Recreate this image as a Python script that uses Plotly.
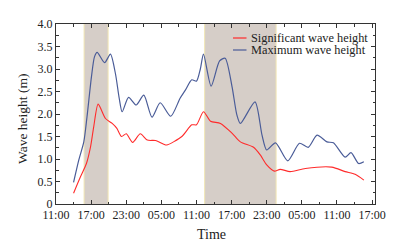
import plotly.graph_objects as go

# Time in hours after 11:00 on the first day
max_hours = [3.0, 3.9, 4.75, 5.3, 6.06, 6.57, 7.03, 8.3, 9.3, 10.15, 10.8, 11.3, 12.4, 13.7, 15.0,
             16.4, 17.8, 19.6, 21.2, 22.1, 23.2, 24.0, 24.66, 25.2, 26.5, 27.95, 28.9, 30.07, 30.9,
             31.5, 34.0, 35.2, 36.0, 37.5, 39.6, 41.6, 43.1, 44.6, 46.3, 47.4, 49.4, 50.4, 51.7, 52.6]
max_height = [0.48, 0.98, 1.38, 1.94, 2.83, 3.27, 3.37, 3.14, 3.33, 2.9, 2.35, 2.05, 2.37, 2.2, 2.42,
              1.93, 2.25, 1.95, 2.35, 2.53, 2.76, 2.73, 3.0, 3.33, 2.62, 3.18, 3.24, 2.61, 1.98,
              1.79, 2.27, 1.53, 1.2, 1.36, 0.96, 1.35, 1.26, 1.53, 1.38, 1.36, 1.04, 1.14, 0.9, 0.94]

sig_hours = [3.0, 4.2, 5.2, 5.9, 6.45, 7.2, 8.45, 9.6, 10.4, 11.2, 12.0, 13.1, 14.4, 15.6, 17.0,
             18.4, 18.9, 21.5, 23.2, 24.0, 25.2, 26.4, 28.1, 30.1, 31.5, 33.75, 34.9, 36.0, 37.3,
             38.3, 40.0, 42.6, 47.1, 49.4, 51.1, 52.6]
sig_height = [0.24, 0.61, 0.9, 1.27, 1.72, 2.22, 1.9, 1.79, 1.68, 1.5, 1.56, 1.37, 1.56, 1.42, 1.41,
              1.33, 1.31, 1.5, 1.76, 1.76, 2.05, 1.84, 1.79, 1.57, 1.38, 1.26, 1.09, 0.87, 0.73,
              0.77, 0.72, 0.79, 0.82, 0.72, 0.66, 0.53]

storm_periods = [(4.8, 8.9), (25.4, 37.6)]

x_tickvals = [0, 6, 12, 18, 24, 30, 36, 42, 48, 54]
x_ticktext = ["11:00", "17:00", "23:00", "05:00", "11:00", "17:00", "23:00", "05:00", "11:00", "17:00"]
y_tickvals = [0, 0.5, 1.0, 1.5, 2.0, 2.5, 3.0, 3.5, 4.0]
y_ticktext = ["0", "0.5", "1.0", "1.5", "2.0", "2.5", "3.0", "3.5", "4.0"]

series_names = ["Significant wave height", "Maximum wave height"]
RED = "#ff2b2b"
BLUE = "#4a5c98"
FONT = "Times New Roman, Liberation Serif, serif"

fig = go.Figure()
fig.add_trace(go.Scatter(x=sig_hours, y=sig_height, mode="lines", name=series_names[0],
                         line=dict(color=RED, width=1.1, shape="spline", smoothing=0.7),
                         showlegend=False))
fig.add_trace(go.Scatter(x=max_hours, y=max_height, mode="lines", name=series_names[1],
                         line=dict(color=BLUE, width=1.2, shape="spline", smoothing=0.7),
                         showlegend=False))

shapes = []
for a, b in storm_periods:
    shapes.append(dict(type="rect", xref="x", yref="paper", x0=a, x1=b, y0=0, y1=1,
                       fillcolor="#d6cec8", line=dict(width=0), layer="below"))
    for xv in (a, b):
        shapes.append(dict(type="line", xref="x", yref="paper", x0=xv, x1=xv, y0=0, y1=1,
                           line=dict(color="#f1e6b4", width=1), layer="below"))

# manual legend (plot area on screen: 56..375 px horizontally, 24..204 px vertically)
def px_x(p):
    return (p - 56) / 319.0

def px_y(p):
    return (204 - p) / 180.0

legend_rows = [(38, RED, series_names[0]), (50, BLUE, series_names[1])]
annotations = []
for py, col, txt in legend_rows:
    shapes.append(dict(type="line", xref="paper", yref="paper", x0=px_x(233), x1=px_x(246.5),
                       y0=px_y(py), y1=px_y(py), line=dict(color=col, width=1.2)))
    annotations.append(dict(xref="paper", yref="paper", x=px_x(249), y=px_y(py), text=txt,
                            showarrow=False, xanchor="left", yanchor="middle",
                            font=dict(family=FONT, size=12.3, color="#222")))

annotations.append(dict(xref="paper", yref="paper", x=px_x(211), y=px_y(234), text="Time",
                        showarrow=False, xanchor="center", yanchor="middle",
                        font=dict(family=FONT, size=14, color="#222")))
annotations.append(dict(xref="paper", yref="paper", x=px_x(22), y=px_y(119), text="Wave height (m)",
                        showarrow=False, xanchor="center", yanchor="middle", textangle=-90,
                        font=dict(family=FONT, size=13.5, color="#222")))

# page body has an 8 px margin, so the figure is offset by (8, 8) on screen
fig.update_layout(
    width=405, height=251,
    margin=dict(l=48, r=38, t=16, b=55),
    paper_bgcolor="white", plot_bgcolor="white",
    shapes=shapes, annotations=annotations,
    font=dict(family=FONT, size=12, color="#222"),
)
fig.update_xaxes(range=[0, 54.5], tickvals=x_tickvals, ticktext=x_ticktext, automargin=False,
                 ticks="inside", ticklen=4, tickcolor="#333", showline=True, linecolor="#333",
                 linewidth=1, mirror="ticks", showgrid=False, zeroline=False,
                 minor=dict(dtick=3, tick0=0, ticks="inside", ticklen=2.5, tickcolor="#333"),
                 tickfont=dict(family=FONT, size=12, color="#222"))
fig.update_yaxes(range=[0, 4], tickvals=y_tickvals, ticktext=y_ticktext, automargin=False,
                 ticks="inside", ticklen=4, tickcolor="#333", showline=True, linecolor="#333",
                 linewidth=1, mirror="ticks", showgrid=False, zeroline=False,
                 minor=dict(dtick=0.25, tick0=0, ticks="inside", ticklen=2.5, tickcolor="#333"),
                 tickfont=dict(family=FONT, size=12, color="#222"))

fig.write_html("out.html")
